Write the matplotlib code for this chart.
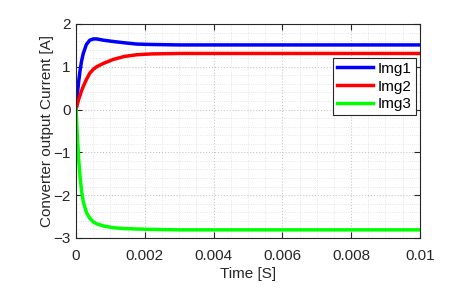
import matplotlib.pyplot as plt
import numpy as np
from matplotlib.ticker import MultipleLocator

plt.rcParams['font.family'] = ['Liberation Sans', 'DejaVu Sans']

# time samples [s] and currents [A]
t = [0, 0.00004, 0.00008, 0.00012, 0.00016, 0.00021, 0.0003, 0.0004, 0.0005, 0.0006,
     0.0008, 0.00108, 0.0014, 0.00176, 0.0022, 0.003, 0.004, 0.006, 0.008, 0.01]
img1 = [0, 0.38, 0.68, 0.93, 1.13, 1.31, 1.52, 1.62, 1.65, 1.65,
        1.62, 1.59, 1.56, 1.53, 1.52, 1.51, 1.51, 1.51, 1.51, 1.51]
img2 = [0, 0.13, 0.25, 0.34, 0.44, 0.54, 0.70, 0.85, 0.94, 1.00,
        1.08, 1.17, 1.24, 1.28, 1.30, 1.31, 1.31, 1.31, 1.31, 1.31]
img3 = [0, -0.67, -1.2, -1.6, -1.9, -2.15, -2.40, -2.54, -2.62, -2.67,
        -2.72, -2.76, -2.78, -2.79, -2.80, -2.81, -2.81, -2.81, -2.81, -2.81]

fig = plt.figure(figsize=(4.5, 2.92), dpi=100)
ax = fig.add_axes([0.169, 0.185, 0.764, 0.733])

ax.plot(t, img1, color='#0000ff', lw=2.5, label='Img1')
ax.plot(t, img2, color='#ff0000', lw=2.5, label='Img2')
ax.plot(t, img3, color='#00ff00', lw=2.5, label='Img3')

ax.set_xlim(0, 0.01)
ax.set_ylim(-3, 2)
ax.set_xticks([0, 0.002, 0.004, 0.006, 0.008, 0.01])
ax.set_xticklabels(['0', '0.002', '0.004', '0.006', '0.008', '0.01'])
ax.xaxis.set_minor_locator(MultipleLocator(0.0005))
ax.yaxis.set_minor_locator(MultipleLocator(0.2))
ax.grid(which='major', ls=':', color='#c8c8c8', lw=0.8)
ax.grid(which='minor', ls=':', color='#e0e0e0', lw=0.6)
ax.tick_params(which='both', direction='in', top=True, right=True,
               labelsize=11, colors='#262626')
ax.tick_params(which='minor', length=0)
ax.tick_params(which='major', length=4)
ax.tick_params(axis='x', pad=8)
ax.tick_params(axis='y', pad=4)
for s in ax.spines.values():
    s.set_color('#262626')
    s.set_linewidth(0.8)

ax.set_xlabel('Time [S]', fontsize=11, color='#262626')
ax.set_ylabel('Converter output Current [A]', fontsize=11, color='#262626')
ax.xaxis.set_label_coords(0.5, -0.135)
ax.yaxis.set_label_coords(-0.064, 0.5)

leg = ax.legend(loc='upper right', bbox_to_anchor=(0.988, 0.841), borderaxespad=0,
                fontsize=11, handlelength=2.4, handletextpad=0.3, fancybox=False,
                framealpha=1, edgecolor='#262626', borderpad=0.25, labelspacing=0.25)
leg.get_frame().set_linewidth(0.8)

fig.savefig('out.png', dpi=100)
